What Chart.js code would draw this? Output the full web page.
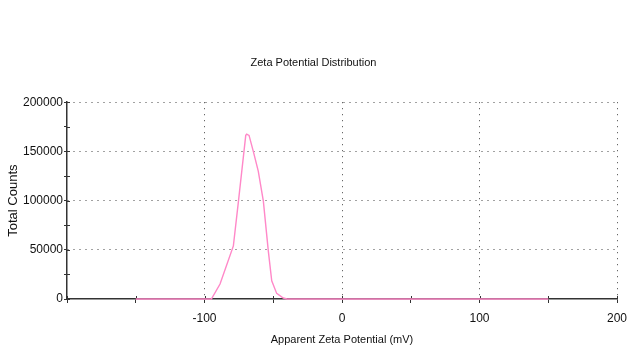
<!DOCTYPE html>
<html>
<head>
<meta charset="utf-8">
<script src="https://cdn.jsdelivr.net/npm/chart.js@4/dist/chart.umd.min.js"></script>
<style>
  html, body { margin: 0; padding: 0; background: #fff; }
  #wrap { width: 627px; height: 347px; }
</style>
</head>
<body>
<div id="wrap"><canvas id="zetaChart" width="627" height="347"></canvas></div>
<script>
// zeta potential (mV) and total counts of the measured distribution
var zeta = [-150, -95, -88.7, -79, -75.3, -70, -69.3, -67.6, -64.5, -60.9, -57.2, -53.6, -51.1, -47.5, -42.7, -40, 150];
var counts = [0, 0, 15200, 54000, 99500, 166300, 167600, 166300, 150000, 129900, 99500, 48900, 18500, 5700, 1000, 0, 0];

var xLabels = [-100, 0, 100, 200];
var yLabels = [0, 50000, 100000, 150000, 200000];

var points = zeta.map(function (z, i) {
    return {x: z, y: counts[i]};
});

var fam = "'Liberation Sans', Arial, sans-serif";
var font = {family: fam, size: 12};
var dotted = '#444';
var axisCol = '#333';

// tick marks poke a little into the plot too, so they cross the axis line
var innerTicks = {
    id: 'innerTicks',
    beforeDatasetsDraw: function (chart) {
        var c = chart.ctx, a = chart.chartArea;
        var xs = chart.scales.x, ys = chart.scales.y;
        c.save();
        c.strokeStyle = axisCol;
        c.lineWidth = 1;
        c.beginPath();
        xs.ticks.forEach(function (t) {
            var px = Math.round(xs.getPixelForValue(t.value)) + 0.5;
            c.moveTo(px, a.bottom);
            c.lineTo(px, a.bottom - 3);
        });
        ys.ticks.forEach(function (t) {
            var py = Math.round(ys.getPixelForValue(t.value)) + 0.5;
            c.moveTo(a.left, py);
            c.lineTo(a.left + 3, py);
        });
        c.stroke();
        c.restore();
    }
};

new Chart(document.getElementById('zetaChart').getContext('2d'), {
    type: 'scatter',
    data: {
        datasets: [{
            data: points,
            showLine: true,
            borderColor: '#ff88c8',
            borderWidth: 1.4,
            pointRadius: 0,
            tension: 0,
            fill: false,
            clip: false
        }]
    },
    options: {
        responsive: false,
        animation: false,
        layout: {padding: {left: 0, right: 0, top: 0, bottom: 0}},
        plugins: {
            legend: {display: false},
            tooltip: {enabled: false},
            title: {
                display: true,
                text: 'Zeta Potential Distribution',
                color: '#111',
                font: {family: fam, size: 11, weight: 'normal'},
                padding: {top: 56, bottom: 33}
            }
        },
        scales: {
            x: {
                type: 'linear',
                min: -200,
                max: 200,
                afterFit: function (s) {
                    s.height = 48;
                    s.paddingLeft = 0;
                    s.paddingRight = 10;
                },
                ticks: {
                    stepSize: 50,
                    color: '#111',
                    font: font,
                    padding: 8,
                    maxRotation: 0,
                    callback: function (v) {
                        return xLabels.indexOf(v) >= 0 ? String(v) : '';
                    }
                },
                grid: {
                    color: function (c) {
                        return xLabels.indexOf(c.tick.value) >= 0 ? dotted : 'rgba(0,0,0,0)';
                    },
                    tickColor: axisCol,
                    tickLength: 4,
                    lineWidth: 1
                },
                border: {color: axisCol, width: 1.5, dash: [1, 5]},
                title: {
                    display: true,
                    text: 'Apparent Zeta Potential (mV)',
                    color: '#111',
                    font: {family: fam, size: 11},
                    padding: {top: 4, bottom: 0}
                }
            },
            y: {
                type: 'linear',
                min: 0,
                max: 200000,
                afterFit: function (s) { s.width = 67; },
                ticks: {
                    stepSize: 25000,
                    color: '#111',
                    font: font,
                    padding: 1,
                    callback: function (v) {
                        return yLabels.indexOf(v) >= 0 ? String(v) : '';
                    }
                },
                grid: {
                    color: function (c) {
                        var v = c.tick.value;
                        return (v > 0 && yLabels.indexOf(v) >= 0) ? dotted : 'rgba(0,0,0,0)';
                    },
                    tickColor: axisCol,
                    tickLength: 3,
                    lineWidth: 1
                },
                border: {color: axisCol, width: 1.5, dash: [1, 5]},
                title: {
                    display: true,
                    text: 'Total Counts',
                    color: '#111',
                    font: {family: fam, size: 13},
                    padding: {top: 6, bottom: 0}
                }
            }
        }
    },
    plugins: [innerTicks]
});
</script>
</body>
</html>
